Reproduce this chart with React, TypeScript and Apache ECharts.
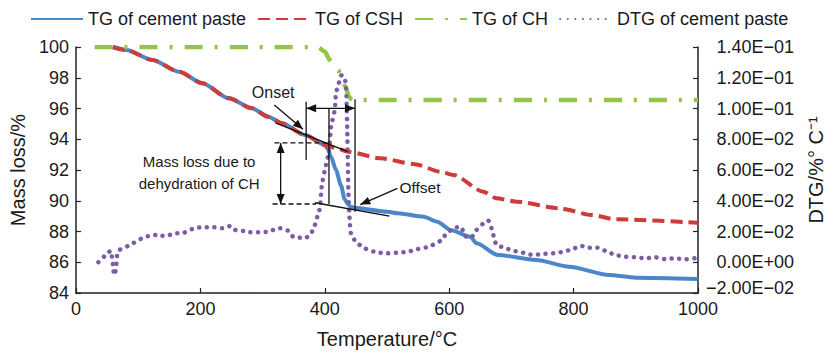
import React, { useEffect, useRef } from "react";
import * as echarts from "echarts";

// Thermogravimetric curves (temperature °C -> remaining mass %)
const pasteT = [59, 81, 123, 166, 203, 246, 283, 309, 331, 368, 400, 405, 410, 418, 426, 432, 437, 441, 447, 501, 517, 559, 581, 602, 634, 644, 678, 740, 793, 857, 900, 1000];
const pasteMass = [100, 99.8, 99.15, 98.39, 97.64, 96.66, 96.01, 95.47, 95.04, 94.28, 93.63, 93.35, 92.86, 92.0, 91.0, 90.1, 89.78, 89.62, 89.55, 89.29, 89.18, 88.96, 88.64, 88.1, 87.66, 87.23, 86.47, 86.15, 85.71, 85.17, 85.0, 84.91];

const cshT = [59, 81, 123, 166, 203, 246, 283, 309, 331, 368, 400, 420, 437, 490, 545, 586, 607, 655, 676, 708, 777, 830, 868, 1000];
const cshMass = [100, 99.8, 99.15, 98.39, 97.64, 96.66, 96.01, 95.47, 95.04, 94.28, 93.63, 93.4, 93.19, 92.76, 92.38, 91.89, 91.68, 90.59, 90.16, 89.94, 89.51, 89.07, 88.79, 88.57];

const chT = [30, 389, 400, 408, 421, 432, 440, 444, 1000];
const chMass = [100, 100, 99.7, 99.15, 98.5, 97.5, 96.7, 96.55, 96.55];

// Derivative curve (%/°C)
const dtgT = [36, 46, 56, 58, 60, 61, 63, 65, 66, 70, 83, 96, 107, 118, 129, 138, 150, 161, 171, 182, 195, 208, 222, 235, 248, 256, 270, 280, 293, 307, 317, 328, 341, 349, 360, 368, 378, 384, 388, 392, 395, 400, 405, 408, 410, 416, 418, 424, 427, 432, 434, 435, 436, 437, 438, 440, 442, 450, 464, 480, 501, 517, 533, 549, 567, 586, 596, 607, 618, 626, 634, 644, 655, 663, 668, 672, 676, 687, 703, 719, 735, 751, 767, 783, 799, 812, 825, 838, 854, 868, 884, 900, 916, 932, 947, 963, 980, 995, 1000];
const dtgRate = [0.0, 0.004, 0.0075, 0.0023, -0.0033, -0.0083, -0.0068, -0.0013, 0.0042, 0.008, 0.0105, 0.0133, 0.0158, 0.0172, 0.0177, 0.0172, 0.0177, 0.0188, 0.0188, 0.021, 0.0224, 0.0227, 0.0227, 0.0221, 0.0236, 0.021, 0.0203, 0.0195, 0.0195, 0.0198, 0.021, 0.0221, 0.0205, 0.0166, 0.016, 0.0156, 0.0188, 0.0242, 0.0296, 0.0351, 0.0491, 0.06, 0.0686, 0.0773, 0.0881, 0.099, 0.1098, 0.1185, 0.1217, 0.1196, 0.1141, 0.1055, 0.0881, 0.0665, 0.0448, 0.0275, 0.0188, 0.0133, 0.0091, 0.0068, 0.0058, 0.0062, 0.0068, 0.0085, 0.0101, 0.014, 0.0188, 0.0221, 0.0231, 0.0171, 0.0156, 0.021, 0.0253, 0.027, 0.0221, 0.0162, 0.0112, 0.0097, 0.0075, 0.0062, 0.0047, 0.0054, 0.0058, 0.0068, 0.0086, 0.0106, 0.0095, 0.0095, 0.0068, 0.0047, 0.0036, 0.0032, 0.0026, 0.0032, 0.0021, 0.0026, 0.0019, 0.0026, 0.0024];

const seriesNames = ["TG of cement paste", "TG of CSH", "TG of CH", "DTG of cement paste"];

// Onset / offset construction, in (°C, mass %)
const tangentBefore = [[320.6, 95.06], [437, 93.19]];
const tangentAfter = [[384.4, 89.87], [504, 89.0]];
const onsetT = 370;
const midT = 406.7;
const offsetT = 448.6;
const upperLevel = 93.76;
const lowerLevel = 89.79;

const FONT = "Liberation Sans, Arial, Helvetica, sans-serif";
const INK = "#111";
const W = 834;
const H = 356;

const zip = (xs: number[], ys: number[]) => xs.map((x, i) => [x, ys[i]]);

const sci = (v: number) => {
  const r = Math.round(v * 10000) / 10000;
  const [m, e] = r.toExponential(2).split("e");
  const n = parseInt(e, 10);
  const exp = (n < 0 ? "\u2212" : "+") + String(Math.abs(n)).padStart(2, "0");
  return m.replace("-", "\u2212") + "E" + exp;
};

export default function App() {
  const ref = useRef<HTMLDivElement>(null);

  useEffect(() => {
    document.body.style.margin = "0";
    document.body.style.overflow = "hidden";
    if (!ref.current) return;
    const chart = echarts.init(ref.current, null, { renderer: "svg", width: W, height: H });

    chart.setOption({
      animation: false,
      textStyle: { fontFamily: FONT },
      legend: {
        data: seriesNames,
        left: 25,
        top: 5,
        itemWidth: 52,
        itemHeight: 14,
        itemGap: 11,
        itemStyle: { opacity: 0 },
        textStyle: { fontSize: 18, color: "#1a1a1a", fontFamily: FONT },
      },
      grid: { left: 76, right: 131, top: 47, bottom: 63 },
      xAxis: {
        type: "value",
        min: 0,
        max: 1000,
        interval: 200,
        name: "Temperature/°C",
        nameLocation: "middle",
        nameGap: 36,
        nameTextStyle: { fontSize: 20, color: "#1a1a1a", fontFamily: FONT },
        axisLine: { onZero: false, lineStyle: { color: "#222", width: 1.5 } },
        axisTick: { inside: true, length: 5, lineStyle: { color: "#222", width: 1.2 } },
        axisLabel: {
          fontSize: 18,
          color: "#1a1a1a",
          margin: 7,
          fontFamily: FONT,
          formatter: (v: number) => String(v),
        },
        splitLine: { show: false },
      },
      yAxis: [
        {
          type: "value",
          min: 84,
          max: 100,
          interval: 2,
          name: "Mass loss/%",
          nameLocation: "middle",
          nameGap: 46,
          nameTextStyle: { fontSize: 20, color: "#1a1a1a", fontFamily: FONT },
          axisLine: { show: true, onZero: false, lineStyle: { color: "#222", width: 1.5 } },
          axisTick: { show: true, inside: true, length: 5, lineStyle: { color: "#222", width: 1.2 } },
          axisLabel: { fontSize: 18, color: "#1a1a1a", margin: 7, fontFamily: FONT },
          splitLine: { show: false },
        },
        {
          type: "value",
          min: -0.02,
          max: 0.14,
          interval: 0.02,
          position: "right",
          name: "DTG/%° C\u207B\u00B9",
          nameLocation: "middle",
          nameGap: 108,
          nameTextStyle: { fontSize: 20, color: "#1a1a1a", fontFamily: FONT },
          axisLine: { show: true, onZero: false, lineStyle: { color: "#222", width: 1.5 } },
          axisTick: { show: true, inside: true, length: 5, lineStyle: { color: "#222", width: 1.2 } },
          axisLabel: {
            fontSize: 18,
            color: "#1a1a1a",
            margin: 96,
            align: "right",
            fontFamily: FONT,
            formatter: (v: number) => (v < -0.015 ? `{low|${sci(v)}}` : sci(v)),
            rich: { low: { fontSize: 18, padding: [0, 0, 10, 0] } },
          },
          splitLine: { show: false },
        },
      ],
      series: [
        {
          name: seriesNames[0],
          type: "line",
          data: zip(pasteT, pasteMass),
          showSymbol: false,
          symbol: "none",
          smooth: 0.25,
          smoothMonotone: "x",
          lineStyle: { color: "#4a86c8", width: 4 },
          itemStyle: { color: "#4a86c8" },
          z: 2,
        },
        {
          name: seriesNames[1],
          type: "line",
          data: zip(cshT, cshMass),
          showSymbol: false,
          symbol: "none",
          smooth: 0.25,
          smoothMonotone: "x",
          lineStyle: { color: "#cc3d3a", width: 4, type: [12, 6] },
          itemStyle: { color: "#cc3d3a" },
          z: 3,
        },
        {
          name: seriesNames[2],
          type: "line",
          data: zip(chT, chMass),
          showSymbol: false,
          symbol: "none",
          smooth: 0.25,
          smoothMonotone: "x",
          lineStyle: { color: "#92c548", width: 4.5, type: [18, 12, 3, 12] },
          itemStyle: { color: "#92c548" },
          z: 4,
        },
        {
          name: seriesNames[3],
          type: "line",
          yAxisIndex: 1,
          data: zip(dtgT, dtgRate),
          showSymbol: false,
          symbol: "none",
          smooth: 0.2,
          lineStyle: { color: "#7b5da6", width: 4.5, type: [0.1, 7.5], cap: "round" },
          itemStyle: { color: "#7b5da6" },
          z: 5,
        },
      ],
    });

    const px = (t: number, m: number) =>
      chart.convertToPixel({ xAxisIndex: 0, yAxisIndex: 0 }, [t, m]) as number[];

    const seg = (a: number[], b: number[], dash?: number[]) => ({
      type: "line",
      shape: { x1: a[0], y1: a[1], x2: b[0], y2: b[1] },
      style: { stroke: INK, lineWidth: 1.3, lineDash: dash },
      z: 100,
    });

    const head = (tip: number[], from: number[], len = 10, half = 4) => {
      const dx = tip[0] - from[0];
      const dy = tip[1] - from[1];
      const d = Math.hypot(dx, dy) || 1;
      const ux = dx / d;
      const uy = dy / d;
      const bx = tip[0] - ux * len;
      const by = tip[1] - uy * len;
      return {
        type: "polygon",
        shape: {
          points: [
            [tip[0], tip[1]],
            [bx - uy * half, by + ux * half],
            [bx + uy * half, by - ux * half],
          ],
        },
        style: { fill: INK },
        z: 101,
      };
    };

    const label = (text: string, p: number[], size: number) => ({
      type: "text",
      x: p[0],
      y: p[1],
      style: {
        text,
        fill: "#1a1a1a",
        font: `${size}px ${FONT}`,
        align: "center",
        verticalAlign: "middle",
      },
      z: 102,
    });

    const t1a = px(tangentBefore[0][0], tangentBefore[0][1]);
    const t1b = px(tangentBefore[1][0], tangentBefore[1][1]);
    const t2a = px(tangentAfter[0][0], tangentAfter[0][1]);
    const t2b = px(tangentAfter[1][0], tangentAfter[1][1]);

    const vOnTop = px(onsetT, 96.44);
    const vOnBot = px(onsetT, 92.65);
    const vMidTop = px(midT, 96.03);
    const vMidBot = px(midT, lowerLevel);
    const vOffTop = px(offsetT, 96.6);
    const vOffBot = px(offsetT, 89.29);

    const spanY = 96.01;
    const spanL = px(onsetT, spanY);
    const spanR = px(offsetT, spanY);

    const upL = px(319, upperLevel);
    const upR = px(405, upperLevel);
    const loL = px(316, lowerLevel);
    const loR = px(386, lowerLevel);

    const lossT = 329;
    const lossTop = px(lossT, upperLevel);
    const lossBot = px(lossT, lowerLevel);

    const onsetFrom = px(318.8, 96.23);
    const onsetTo = px(365, 94.65);
    const offsetFrom = px(516.7, 90.81);
    const offsetTo = px(457, 89.75);

    chart.setOption({
      graphic: [
        seg(t1a, t1b),
        seg(t2a, t2b),
        seg(vOnTop, vOnBot),
        seg(vMidTop, vMidBot),
        seg(vOffTop, vOffBot),
        seg(upL, upR, [5, 3]),
        seg(loL, loR, [5, 3]),
        seg(spanL, spanR),
        head(spanL, spanR),
        head(spanR, spanL),
        seg(lossTop, lossBot),
        head(lossTop, lossBot),
        head(lossBot, lossTop),
        seg(onsetFrom, onsetTo),
        head(onsetTo, onsetFrom),
        seg(offsetFrom, offsetTo),
        head(offsetTo, offsetFrom),
        label("Onset", px(317, 97.07), 16),
        label("Offset", px(553, 90.83), 15.5),
        label("Mass loss due to", px(198, 92.54), 15),
        label("dehydration of CH", px(198, 91.09), 15),
      ],
    });

    return () => chart.dispose();
  }, []);

  return <div ref={ref} style={{ width: W, height: H }} />;
}
